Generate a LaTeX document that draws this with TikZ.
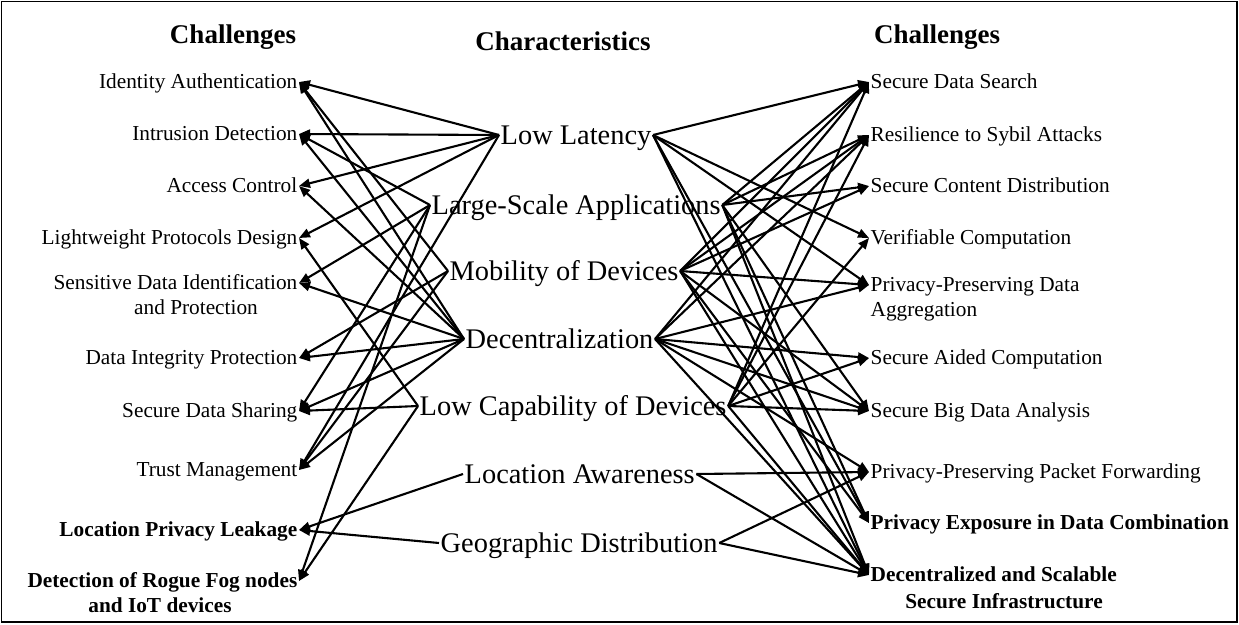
\documentclass[tikz,border=0pt]{standalone}
\usepackage{fontspec}
\setmainfont{Liberation Serif}
\usetikzlibrary{arrows.meta}
\begin{document}
\begin{tikzpicture}[x=1pt,y=-1pt,
  lab/.style={font=\fontsize{21.3}{24}\selectfont, inner sep=1.5pt, text height=17pt, text depth=4pt},
  blab/.style={lab, font=\fontsize{21.3}{24}\selectfont\bfseries},
  mid/.style={font=\fontsize{28.4}{32}\selectfont, inner sep=1.5pt, text height=23pt, text depth=4pt},
  ttl/.style={font=\fontsize{27}{30}\selectfont\bfseries, inner sep=0pt},
  conn/.style={line width=2.1pt, -{Triangle[length=11pt,width=9pt]}},
  frame/.style={line width=1.5pt}]
\useasboundingbox (0,0) rectangle (1239,624);
\draw[frame] (1.5,1.5) rectangle (1237,622);
% titles
\node[ttl] (t1) at (233,37) {Challenges};
\node[ttl] (t2) at (563,41) {Characteristics};
\node[ttl] (t3) at (937,37) {Challenges};
% left challenges
\node[lab, anchor=east] (l1) at (299,82) {Identity Authentication};
\node[lab, anchor=east] (l2) at (299,134) {Intrusion Detection};
\node[lab, anchor=east] (l3) at (299,186) {Access Control};
\node[lab, anchor=east] (l4) at (299,238) {Lightweight Protocols Design};
\node[lab, anchor=east] (l5) at (299,283) {Sensitive Data Identification};
\node[lab] (l5b) at (196,308) {and Protection};
\node[lab, anchor=east] (l6) at (299,358) {Data Integrity Protection};
\node[lab, anchor=east] (l7) at (299,411) {Secure Data Sharing};
\node[lab, anchor=east] (l8) at (299,470) {Trust Management};
\node[blab, anchor=east] (l9) at (299,530) {Location Privacy Leakage};
\node[blab, anchor=east] (l10) at (299,581) {Detection of Rogue Fog nodes};
\node[blab] (l10b) at (160,606) {and IoT devices};
% characteristics
\node[mid, anchor=west] (c1) at (499,135) {Low Latency};
\node[mid, anchor=west] (c2) at (430,205) {Large-Scale Applications};
\node[mid, anchor=west] (c3) at (448,271) {Mobility of Devices};
\node[mid, anchor=west] (c4) at (464,339) {Decentralization};
\node[mid, anchor=west] (c5) at (418,406) {Low Capability of Devices};
\node[mid, anchor=west] (c6) at (463,474) {Location Awareness};
\node[mid, anchor=west] (c7) at (439,543) {Geographic Distribution};
% right challenges
\node[lab, anchor=west] (r1) at (869,82) {Secure Data Search};
\node[lab, anchor=west] (r2) at (869,135) {Resilience to Sybil Attacks};
\node[lab, anchor=west] (r3) at (869,186) {Secure Content Distribution};
\node[lab, anchor=west] (r4) at (869,238) {Verifiable Computation};
\node[lab, anchor=west] (r5) at (869,285) {Privacy-Preserving Data};
\node[lab, anchor=west] (r5b) at (869,310) {Aggregation};
\node[lab, anchor=west] (r6) at (869,358) {Secure Aided Computation};
\node[lab, anchor=west] (r7) at (869,411) {Secure Big Data Analysis};
\node[lab, anchor=west] (r8) at (869,472) {Privacy-Preserving Packet Forwarding};
\node[blab, anchor=west] (r9) at (869,523) {Privacy Exposure in Data Combination};
\node[blab, anchor=west] (r10) at (869,575) {Decentralized and Scalable};
\node[blab] (r10b) at (1004,602) {Secure Infrastructure};
% left connectors
\foreach \c/\t in {c1/l1,c1/l2,c1/l3,c1/l4,c1/l8,
                   c2/l2,c2/l5,c2/l7,c2/l10,
                   c3/l1,c3/l6,c3/l8,
                   c4/l1,c4/l2,c4/l3,c4/l5,c4/l6,c4/l7,c4/l8,
                   c5/l4,c5/l7,c5/l10,
                   c6/l9,c7/l9}
  \draw[conn] (\c.west) -- (\t.east);
% right connectors
\foreach \c/\t in {c1/r1,c1/r4,c1/r5,c1/r9,c1/r10,
                   c2/r1,c2/r2,c2/r3,c2/r7,c2/r9,c2/r10,
                   c3/r1,c3/r2,c3/r3,c3/r5,c3/r7,c3/r9,c3/r10,
                   c4/r1,c4/r2,c4/r5,c4/r6,c4/r7,c4/r8,c4/r10,
                   c5/r1,c5/r2,c5/r4,c5/r6,c5/r7,c5/r10,
                   c6/r8,c6/r10,c7/r8,c7/r10}
  \draw[conn] (\c.east) -- (\t.west);
\end{tikzpicture}
\end{document}
